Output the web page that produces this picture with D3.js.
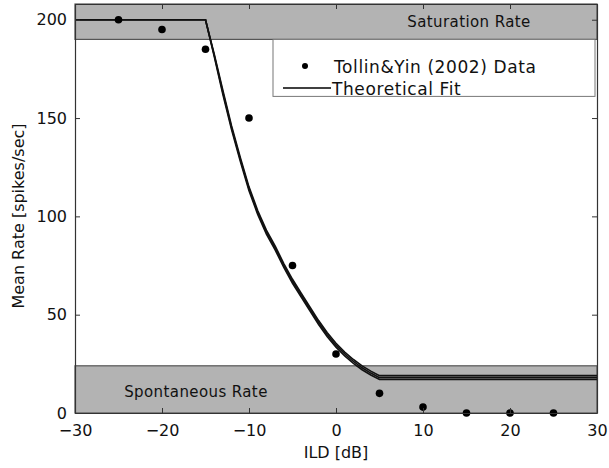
<!DOCTYPE html>
<html>
<head>
<meta charset="utf-8">
<script src="https://cdn.jsdelivr.net/npm/d3@7"></script>
<style>
  body { margin: 0; background: #fff; }
  text { font-family: "DejaVu Sans", sans-serif; fill: #111; }
</style>
</head>
<body>
<div id="chart"></div>
<script>
// measured data points
const dataX = [-25, -20, -15, -10, -5, 0, 5, 10, 15, 20, 25];
const dataY = [200, 195, 185, 150, 75, 30, 10, 3, 0, 0, 0];

// theoretical fit curves (several overlapping runs)
const fitX = [-30, -15, -14, -13, -12, -11, -10, -9, -8, -7, -6, -5, -4, -3, -2, -1, 0, 1, 2, 3, 4, 5, 30];
const fitA = [200, 200, 182, 163, 145, 129, 114, 102, 92, 84, 75, 67, 60, 53, 46, 39.8, 34.5, 30, 26.2, 23, 20.3, 18, 18];
const fitB = [200, 200, 182.6, 164, 146, 130, 115, 103, 93, 85, 76, 68, 61, 54, 47, 40.8, 35.5, 31, 27.2, 24, 21.3, 19, 19];
const fitC = [200, 200, 181.4, 162, 144, 128, 113, 101, 91, 83, 74, 66, 59, 52, 45, 38.8, 33.5, 29, 25.2, 22, 19.3, 17, 17];

const xTicks = [-30, -20, -10, 0, 10, 20, 30];
const yTicks = [0, 50, 100, 150, 200];

const saturationBand = [190, 208];
const spontaneousBand = [0, 24];

const width = 609, height = 468;
const margin = { top: 4, right: 12, bottom: 55, left: 75 };

const svg = d3.select('#chart').append('svg')
    .attr('width', width)
    .attr('height', height);

const x = d3.scaleLinear().domain([-30, 30]).range([margin.left, width - margin.right]);
const y = d3.scaleLinear().domain([0, 208]).range([height - margin.bottom, margin.top]);

// grey bands
[saturationBand, spontaneousBand].forEach(b => {
    svg.append('rect')
        .attr('x', x(-30))
        .attr('y', y(b[1]))
        .attr('width', x(30) - x(-30))
        .attr('height', y(b[0]) - y(b[1]))
        .attr('fill', '#b3b3b3')
        .attr('stroke', '#555')
        .attr('stroke-width', 1.2);
});

svg.append('text')
    .attr('x', 469)
    .attr('y', y(199))
    .attr('dy', '0.35em')
    .attr('text-anchor', 'middle')
    .style('font-size', '15px')
    .style('letter-spacing', '0.4px')
    .text('Saturation Rate');

svg.append('text')
    .attr('x', 196)
    .attr('y', y(11))
    .attr('dy', '0.35em')
    .attr('text-anchor', 'middle')
    .style('font-size', '15px')
    .style('letter-spacing', '0.4px')
    .text('Spontaneous Rate');

// fit lines
const line = d3.line().x(d => x(d[0])).y(d => y(d[1]));
[fitB, fitC, fitA].forEach(f => {
    svg.append('path')
        .datum(fitX.map((v, i) => [v, f[i]]))
        .attr('d', line)
        .attr('fill', 'none')
        .attr('stroke', '#111')
        .attr('stroke-width', 1.6);
});

// data points
svg.selectAll('.pt')
    .data(dataX.map((v, i) => [v, dataY[i]]))
    .enter().append('circle')
    .attr('class', 'pt')
    .attr('cx', d => x(d[0]))
    .attr('cy', d => y(d[1]))
    .attr('r', 3.8)
    .attr('fill', '#000');

// legend
const lg = svg.append('g');
lg.append('rect')
    .attr('x', 273).attr('y', y(190))
    .attr('width', 322).attr('height', 57)
    .attr('fill', '#fff')
    .attr('stroke', '#777')
    .attr('stroke-width', 1);
lg.append('circle').attr('cx', 305).attr('cy', 66).attr('r', 3).attr('fill', '#000');
lg.append('text').attr('x', 334).attr('y', 67).attr('dy', '0.35em')
    .style('font-size', '17px').style('letter-spacing', '0.6px')
    .text('Tollin&Yin (2002) Data');
lg.append('line').attr('x1', 283).attr('x2', 331).attr('y1', 88).attr('y2', 88)
    .attr('stroke', '#000').attr('stroke-width', 1.5);
lg.append('text').attr('x', 332).attr('y', 89).attr('dy', '0.35em')
    .style('font-size', '17px').style('letter-spacing', '0.6px')
    .text('Theoretical Fit');

// axes
svg.append('g')
    .attr('transform', `translate(0,${y(0)})`)
    .call(d3.axisBottom(x).tickValues(xTicks).tickSizeInner(-5).tickSizeOuter(0).tickPadding(12));
svg.append('g')
    .attr('transform', `translate(${x(-30)},0)`)
    .call(d3.axisLeft(y).tickValues(yTicks).tickSizeInner(-5).tickSizeOuter(0).tickPadding(8));
svg.append('g')
    .attr('transform', `translate(0,${y(208)})`)
    .call(d3.axisTop(x).tickValues(xTicks).tickSizeInner(-5).tickSizeOuter(0).tickFormat(''));
svg.append('g')
    .attr('transform', `translate(${x(30)},0)`)
    .call(d3.axisRight(y).tickValues(yTicks).tickSizeInner(-5).tickSizeOuter(0).tickFormat(''));

svg.selectAll('.domain').attr('stroke', '#333').attr('stroke-width', 1.2);
svg.selectAll('.tick line').attr('stroke', '#333');
svg.selectAll('.tick text').style('font-size', '16px').attr('fill', '#111');

svg.append('text')
    .attr('x', x(0))
    .attr('y', 452)
    .attr('dy', '0.35em')
    .attr('text-anchor', 'middle')
    .style('font-size', '16px')
    .text('ILD [dB]');

svg.append('text')
    .attr('transform', 'rotate(-90)')
    .attr('x', -216)
    .attr('y', 18)
    .attr('dy', '0.35em')
    .attr('text-anchor', 'middle')
    .style('font-size', '16px')
    .text('Mean Rate [spikes/sec]');
</script>
</body>
</html>
